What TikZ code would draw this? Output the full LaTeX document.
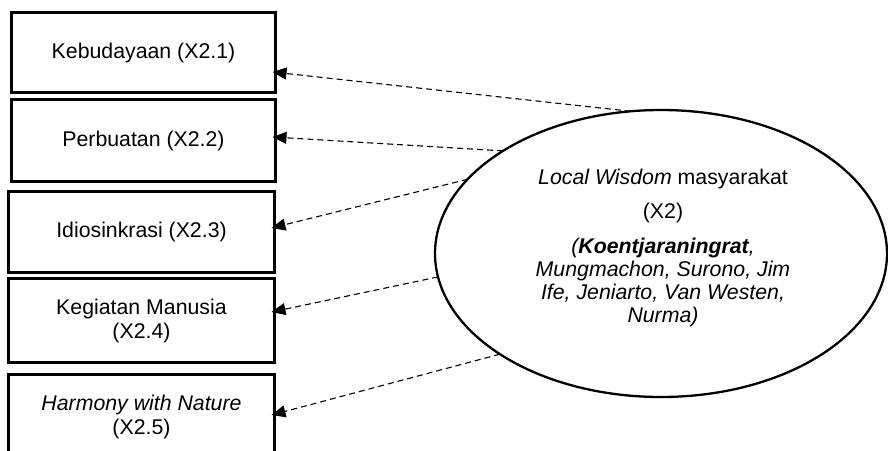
\documentclass[tikz,border=0pt]{standalone}
\usepackage{fontspec}
\setmainfont{Liberation Sans}
\usetikzlibrary{arrows.meta,shapes.geometric}

\tikzset{
  item/.style={draw, line width=2.2pt, outer sep=0pt, inner sep=2pt,
    minimum width=264pt, align=center,
    font=\fontsize{21.3}{24}\selectfont},
  construct/.style={draw, ellipse, line width=2.3pt, outer sep=0pt, inner sep=0pt,
    minimum width=452pt, minimum height=287pt},
  ellnote/.style={align=center, inner sep=0pt, font=\fontsize{21.3}{23}\selectfont},
  loading/.style={dashed, dash pattern=on 6pt off 4pt, line width=1.1pt,
    -{Triangle[length=14pt,width=12pt]}}
}

\begin{document}
\begin{tikzpicture}[x=1pt, y=-1pt]
  \useasboundingbox (0,0) rectangle (888,450);

  % indicator boxes
  \node[item, minimum height=80pt] (b1) at (143.5,52.5) {Kebudayaan (X2.1)};
  \node[item, minimum height=82pt] (b2) at (143.5,140.5) {Perbuatan (X2.2)};
  \node[item, minimum width=266pt, minimum height=81pt] (b3) at (141.5,232) {Idiosinkrasi (X2.3)};
  \node[item, minimum width=266pt, minimum height=84pt] (b4) at (141.5,320.5) {Kegiatan Manusia\\(X2.4)};
  \node[item, minimum width=266pt, minimum height=84pt] (b5) at (141.5,416.5) {\textit{Harmony with Nature}\\(X2.5)};

  % latent construct
  \node[construct] (ell) at (661,253.5) {};
  \node[ellnote] (elltxt) at (663,247.5) {%
    \textit{Local Wisdom} masyarakat\\[11pt]
    (X2)\\[12pt]
    \textit{(\textbf{Koentjaraningrat},}\\
    \textit{Mungmachon, Surono, Jim}\\
    \textit{Ife, Jeniarto, Van Westen,}\\
    \textit{Nurma)}};

  % loadings
  \draw[loading] (ell.102)   -- ([xshift=-3pt,yshift=-19.5pt]b1.east);
  \draw[loading] (ell.147.8) -- ([xshift=-3pt,yshift=3.5pt]b2.east);
  \draw[loading] (ell.159.6) -- ([xshift=-3pt,yshift=4pt]b3.east);
  \draw[loading] (ell.186.7) -- ([xshift=-3pt,yshift=8.5pt]b4.east);
  \draw[loading] (ell.212.7) -- ([xshift=-3pt,yshift=1.5pt]b5.east);
\end{tikzpicture}
\end{document}
